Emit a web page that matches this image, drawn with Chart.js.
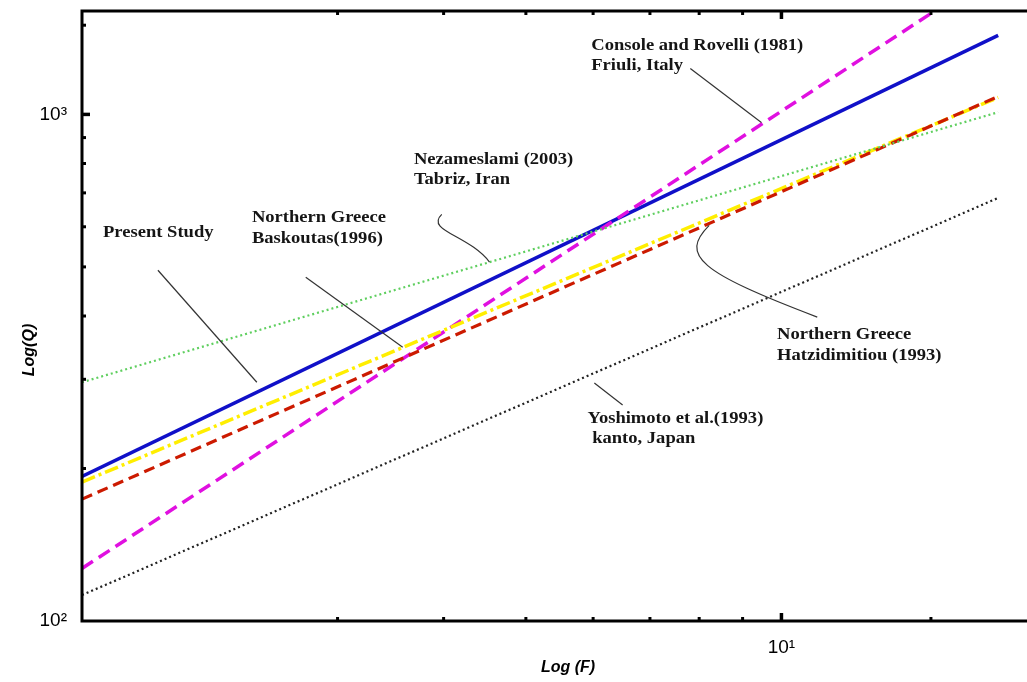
<!DOCTYPE html>
<html>
<head>
<meta charset="utf-8">
<title>Log(Q) vs Log(F)</title>
<script src="https://cdn.jsdelivr.net/npm/chart.js@4.4.1/dist/chart.umd.min.js"></script>
<style>
  html, body { margin: 0; padding: 0; background: #fff; overflow: hidden; }
  canvas { display: block; }
</style>
</head>
<body>
<canvas id="chart" width="1045" height="682"></canvas>
<script>
// frequency range covered by each relation (Hz)
const freq = [1.5, 18];

// Q values at the two ends of each line
const presentStudy = [193, 1432];
const baskoutas = [188, 1080];
const hatzidimitiou = [174, 1085];
const consoleRovelli = [127, 1932];
const nezameslami = [296, 1010];
const yoshimoto = [112.5, 684];

// axis limits and labelled decades
const xRange = [1.5, 20];
const yRange = [100, 1600];
const xTickLabels = { 10: "10\u00B9" };
const yTickLabels = { 100: "10\u00B2", 1000: "10\u00B3" };

// text notes, placed in data coordinates (f, Q)
const notes = [
  { text: "Console and Rovelli (1981)", f: 5.97, q: 1368 },
  { text: "Friuli, Italy", f: 5.97, q: 1249 },
  { text: "Nezameslami (2003)", f: 3.69, q: 812 },
  { text: "Tabriz, Iran", f: 3.69, q: 744 },
  { text: "Present Study", f: 1.588, q: 583 },
  { text: "Northern Greece", f: 2.378, q: 626 },
  { text: "Baskoutas(1996)", f: 2.378, q: 569 },
  { text: "Northern Greece", f: 9.88, q: 367 },
  { text: "Hatzidimitiou (1993)", f: 9.88, q: 333 },
  { text: "Yoshimoto et al.(1993)", f: 5.91, q: 251 },
  { text: " kanto, Japan", f: 5.91, q: 229 }
];

// pointer lines from notes to curves
const pointers = [
  [[1.843, 492.5], [2.41, 296]],
  [[2.752, 477], [3.58, 347]],
  [[7.81, 1232], [9.47, 964]],
  [[6.02, 295], [6.5, 267]]
];
const curvedPointers = [
  [[3.98, 635], [3.8, 590], [4.29, 577], [4.53, 511]],
  [[8.22, 604], [7.58, 527], [8.0, 488], [11.02, 398]]
];

const toPoints = (vals) => freq.map((f, i) => ({ x: f, y: vals[i] }));

// inward ticks, frame, axis titles and notes
const decorPlugin = {
  id: "decor",
  afterDraw(chart) {
    const { ctx, chartArea: a, scales } = chart;
    const xs = scales.x, ys = scales.y;
    const isMajor = (v) => Math.abs(Math.log10(v) - Math.round(Math.log10(v))) < 1e-9;
    ctx.save();
    ctx.strokeStyle = "#000";
    ctx.lineCap = "butt";

    // x ticks on bottom and top
    xs.ticks.forEach((t) => {
      if (t.value <= xRange[0] || t.value >= xRange[1]) return;
      const px = xs.getPixelForValue(t.value);
      const len = isMajor(t.value) ? 8 : 4;
      ctx.lineWidth = isMajor(t.value) ? 3.5 : 3;
      ctx.beginPath();
      ctx.moveTo(px, a.bottom); ctx.lineTo(px, a.bottom - len);
      ctx.moveTo(px, a.top); ctx.lineTo(px, a.top + len);
      ctx.stroke();
    });
    // y ticks on left
    ys.ticks.forEach((t) => {
      if (t.value <= yRange[0] || t.value >= yRange[1]) return;
      const py = ys.getPixelForValue(t.value);
      const len = isMajor(t.value) ? 8 : 4;
      ctx.lineWidth = isMajor(t.value) ? 3.5 : 3;
      ctx.beginPath();
      ctx.moveTo(a.left, py); ctx.lineTo(a.left + len, py);
      ctx.stroke();
    });

    // frame
    ctx.lineWidth = 3;
    ctx.strokeRect(a.left, a.top, a.right - a.left, a.bottom - a.top);

    // axis titles
    ctx.fillStyle = "#000";
    ctx.font = "bold italic 16px 'Liberation Sans', Arial, sans-serif";
    ctx.textAlign = "center";
    ctx.textBaseline = "middle";
    ctx.fillText("Log (F)", a.left + 486, a.bottom + 47);
    ctx.translate(a.left - 52, a.top + 339);
    ctx.rotate(-Math.PI / 2);
    ctx.fillText("Log(Q)", 0, 0);
    ctx.setTransform(1, 0, 0, 1, 0, 0);

    // pointer lines
    ctx.strokeStyle = "#333";
    ctx.lineWidth = 1.2;
    pointers.forEach(([p, q]) => {
      ctx.beginPath();
      ctx.moveTo(xs.getPixelForValue(p[0]), ys.getPixelForValue(p[1]));
      ctx.lineTo(xs.getPixelForValue(q[0]), ys.getPixelForValue(q[1]));
      ctx.stroke();
    });
    curvedPointers.forEach((c) => {
      const pts = c.map((p) => [xs.getPixelForValue(p[0]), ys.getPixelForValue(p[1])]);
      ctx.beginPath();
      ctx.moveTo(pts[0][0], pts[0][1]);
      ctx.bezierCurveTo(pts[1][0], pts[1][1], pts[2][0], pts[2][1], pts[3][0], pts[3][1]);
      ctx.stroke();
    });

    // notes (the source lettering is a little wide, so stretch it)
    ctx.fillStyle = "#151515";
    ctx.font = "bold 16px 'Liberation Serif', 'Times New Roman', serif";
    ctx.textAlign = "left";
    ctx.textBaseline = "middle";
    notes.forEach((n) => {
      ctx.save();
      ctx.translate(xs.getPixelForValue(n.f), ys.getPixelForValue(n.q));
      ctx.scale(1.16, 1);
      ctx.fillText(n.text, 0, 0);
      ctx.restore();
    });
    ctx.restore();
  }
};

const tickFont = { family: "'Liberation Sans', Arial, sans-serif", size: 19 };

new Chart(document.getElementById("chart"), {
  type: "line",
  data: {
    datasets: [
      { label: "Yoshimoto et al. (1993)", data: toPoints(yoshimoto), borderColor: "#222", borderWidth: 2.2, borderDash: [2, 3] },
      { label: "Nezameslami (2003)", data: toPoints(nezameslami), borderColor: "#5fcf5f", borderWidth: 2.2, borderDash: [2, 3] },
      { label: "Hatzidimitiou (1993)", data: toPoints(hatzidimitiou), borderColor: "#cc1a00", borderWidth: 3.2, borderDash: [11, 6] },
      { label: "Baskoutas (1996)", data: toPoints(baskoutas), borderColor: "#ffee00", borderWidth: 3.5, borderDash: [14, 4, 3, 4] },
      { label: "Console and Rovelli (1981)", data: toPoints(consoleRovelli), borderColor: "#e010e0", borderWidth: 3.5, borderDash: [13, 7] },
      { label: "Present Study", data: toPoints(presentStudy), borderColor: "#1010c8", borderWidth: 3.5 }
    ]
  },
  options: {
    responsive: false,
    animation: false,
    layout: { padding: { top: 11, right: 8, left: 0, bottom: 0 } },
    elements: { point: { radius: 0 }, line: { tension: 0 } },
    plugins: { legend: { display: false }, tooltip: { enabled: false } },
    scales: {
      x: {
        type: "logarithmic",
        min: xRange[0],
        max: xRange[1],
        grid: { display: false },
        border: { display: false },
        afterFit: (s) => { s.height = 61; s.paddingLeft = 0; s.paddingRight = 0; },
        ticks: {
          autoSkip: false,
          maxRotation: 0,
          padding: 7,
          color: "#000",
          font: tickFont,
          callback: (v) => xTickLabels[v] || ""
        }
      },
      y: {
        type: "logarithmic",
        min: yRange[0],
        max: yRange[1],
        grid: { display: false },
        border: { display: false },
        afterFit: (s) => { s.width = 82; s.paddingTop = 0; s.paddingBottom = 0; },
        ticks: {
          autoSkip: false,
          padding: 7,
          color: "#000",
          font: tickFont,
          callback: (v) => yTickLabels[v] || ""
        }
      }
    }
  },
  plugins: [decorPlugin]
});
</script>
</body>
</html>
